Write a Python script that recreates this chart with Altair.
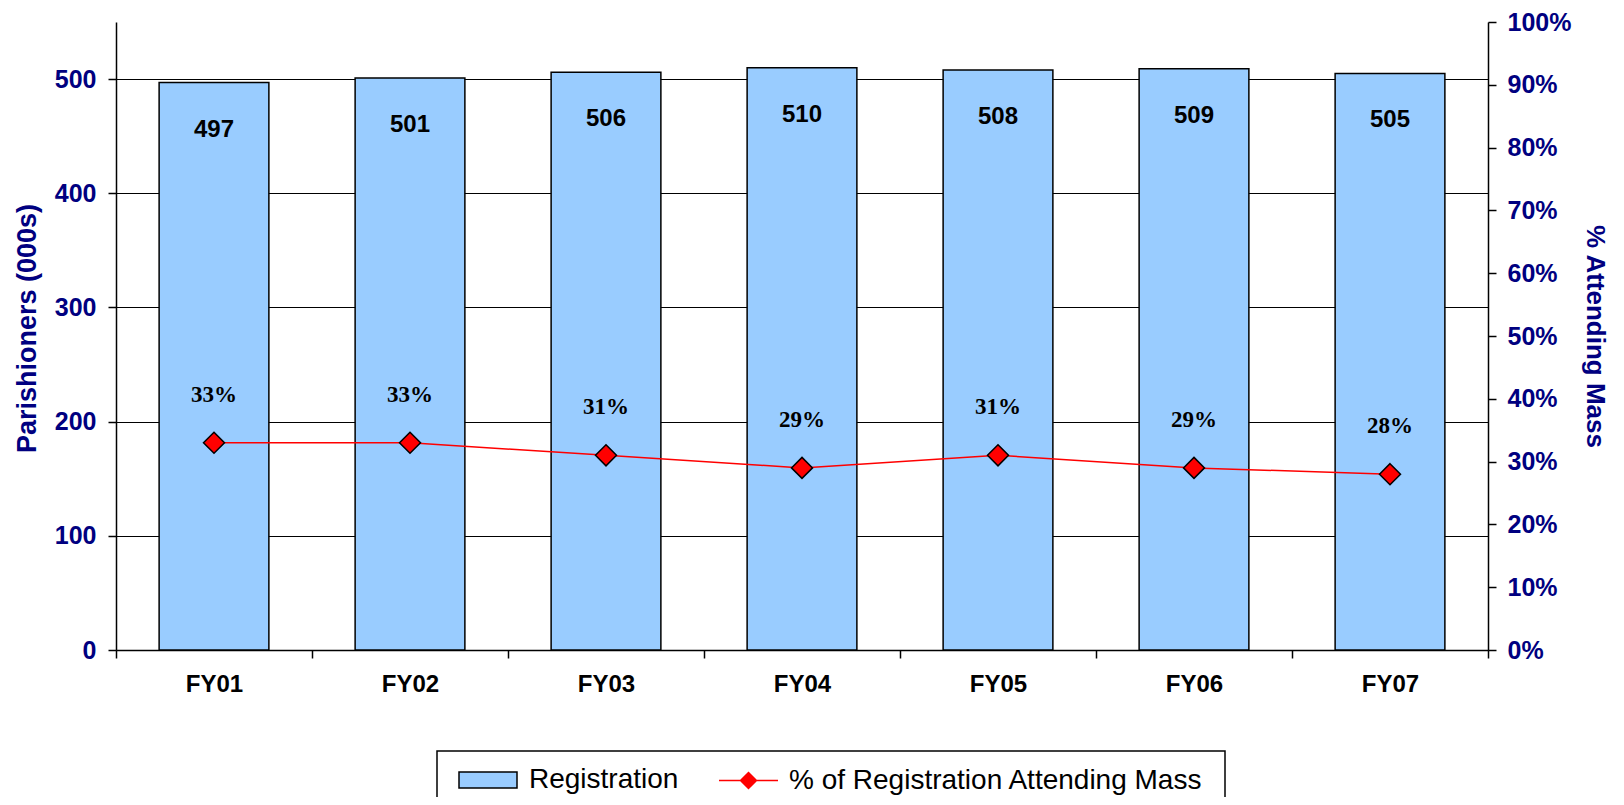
import altair as alt
import pandas as pd

# ---- data ----
years = ["FY01", "FY02", "FY03", "FY04", "FY05", "FY06", "FY07"]
registration = [497, 501, 506, 510, 508, 509, 505]
attending_pct = [0.33, 0.33, 0.31, 0.29, 0.31, 0.29, 0.28]
reg_labels = ["497", "501", "506", "510", "508", "509", "505"]
pct_labels = ["33%", "33%", "31%", "29%", "31%", "29%", "28%"]
left_ticks = [0, 100, 200, 300, 400, 500]
right_ticks = [0.0, 0.1, 0.2, 0.3, 0.4, 0.5, 0.6, 0.7, 0.8, 0.9, 1.0]
bar_series = "Registration"
line_series = "% of Registration Attending Mass"
left_title = "Parishioners (000s)"
right_title = "% Attending Mass"

df = pd.DataFrame({
    "year": years,
    "registration": registration,
    "pct": attending_pct,
    "reg_label": reg_labels,
    "pct_label": pct_labels,
    "series": [bar_series] * len(years),
    "series2": [line_series] * len(years),
})

NAVY = "#000080"
SANS = "Liberation Sans, Arial, sans-serif"
SERIF = "Liberation Serif, Times New Roman, serif"
W, H = 1372, 628

x_enc = alt.X(
    "year:N", sort=years, title=None,
    scale=alt.Scale(paddingInner=0, paddingOuter=0),
    axis=alt.Axis(
        labelFont=SANS, labelFontSize=24, labelFontWeight="bold", labelColor="black",
        labelAngle=0, labelPadding=14, tickBand="extent", tickSize=8, tickWidth=1.5,
        tickColor="black", domainColor="black", domainWidth=1.5, grid=False,
    ),
)

left_axis = alt.Axis(
    values=left_ticks, title=left_title, grid=True, gridColor="black", gridWidth=1.2,
    gridOpacity=1, domainColor="black", domainWidth=1.5, tickColor="black", tickSize=8,
    tickWidth=1.5, labelFont=SANS, labelFontSize=25, labelFontWeight="bold",
    labelColor=NAVY, labelPadding=12, titleFont=SANS, titleFontSize=27,
    titleFontWeight="bold", titleColor=NAVY, titleAngle=270, titleBaseline="middle",
    titleAlign="center", titleX=-89, titleY=H / 2 - 8,
)

right_axis = alt.Axis(
    orient="right", values=right_ticks, format=".0%", title=right_title, grid=False,
    domainColor="black", domainWidth=1.5, tickColor="black", tickSize=8, tickWidth=1.5,
    labelFont=SANS, labelFontSize=25, labelFontWeight="bold", labelColor=NAVY,
    labelPadding=11, titleFont=SANS, titleFontSize=26, titleFontWeight="bold",
    titleColor=NAVY, titleAngle=90, titleBaseline="middle", titleAlign="center",
    titleX=106, titleY=H / 2,
)

y_left = alt.Y("registration:Q", scale=alt.Scale(domain=[0, 550], nice=False, zero=True),
               axis=left_axis)
y_right = alt.Y("pct:Q", scale=alt.Scale(domain=[0, 1], nice=False), axis=right_axis)

legend_common = dict(
    title=None, orient="none", padding=0, labelFont=SANS, labelFontSize=28,
    labelColor="black", labelLimit=1000, legendY=728,
)

bars = alt.Chart(df).mark_bar(
    stroke="black", strokeWidth=1.5, width=alt.RelativeBandSize(0.56)
).encode(
    x=x_enc,
    y=y_left,
    fill=alt.Fill(
        "series:N",
        scale=alt.Scale(domain=[bar_series], range=["#99CCFF"]),
        legend=alt.Legend(
            symbolType="M-1,-0.276H1V0.276H-1Z", symbolSize=3364,
            symbolStrokeColor="black", symbolStrokeWidth=1.5, labelOffset=11,
            legendX=342, **legend_common,
        ),
    ),
)

bar_text = alt.Chart(df).mark_text(
    dy=47, font=SANS, fontSize=24, fontWeight="bold", color="black", baseline="middle"
).encode(x=x_enc, y=y_left, text="reg_label:N")

left = alt.layer(bars, bar_text)

line = alt.Chart(df).mark_line(strokeWidth=1.5).encode(
    x=x_enc,
    y=y_right,
    stroke=alt.Stroke(
        "series2:N",
        scale=alt.Scale(domain=[line_series], range=["red"]),
        legend=alt.Legend(
            symbolType="M-1,0H1M0,-0.27L0.27,0L0,0.27L-0.27,0Z", symbolSize=3481,
            symbolStrokeWidth=1.5, symbolFillColor="red", labelOffset=10,
            legendX=602, **legend_common,
        ),
    ),
)

diamond_path = "M0,-1L1,0L0,1L-1,0Z"
points = alt.Chart(df).mark_point(
    shape=diamond_path, filled=True, fill="red", stroke="black", strokeWidth=1.5,
    size=441, opacity=1,
).encode(x=x_enc, y=y_right)

pct_text = alt.Chart(df).mark_text(
    dy=-48, font=SERIF, fontSize=23, fontWeight="bold", color="black", baseline="middle"
).encode(x=x_enc, y=y_right, text="pct_label:N")

right = alt.layer(line, points, pct_text)

frame = alt.Chart(alt.Data(values=[{"k": 1}])).mark_rect(
    fillOpacity=0, stroke="black", strokeWidth=1.5
).encode(x=alt.value(321), x2=alt.value(1109), y=alt.value(729), y2=alt.value(800))

chart = alt.layer(left, right, frame).resolve_scale(y="independent").properties(
    width=W, height=H,
    autosize=alt.AutoSizeParams(type="none"),
    padding={"left": 108, "top": 14, "right": 128, "bottom": 147},
    background="white",
).configure_view(stroke="transparent")

chart.save("out.html", embed_options={"renderer": "svg", "actions": False})
